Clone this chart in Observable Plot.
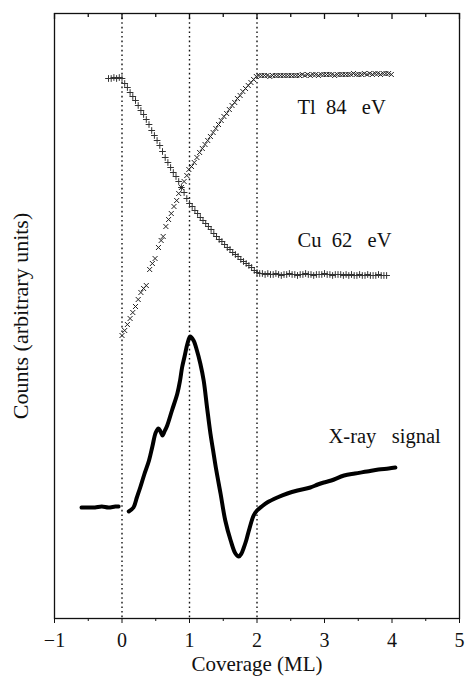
<!DOCTYPE html>
<html><head><meta charset="utf-8">
<script src="https://cdn.jsdelivr.net/npm/d3@7"></script>
<script src="https://cdn.jsdelivr.net/npm/@observablehq/plot@0.6"></script>
<style>
body{margin:0;background:#fff}
</style>
</head><body><div id="chart"></div>
<script>
// Axis ticks (coverage, ML)
const majorTicks = [-1, 0, 1, 2, 3, 4, 5];
const minorTicks = [-0.5, 0.5, 1.5, 2.5, 3.5, 4.5];
const guideLines = [0, 1, 2];

// Tl 84 eV Auger signal: [coverage, counts]
const tl84 = [
  [0.00,283],[0.04,288],[0.08,294],[0.12,300],[0.16,306],[0.20,312],[0.24,319],[0.28,326],[0.32,330],[0.36,333],
  [0.41,349],[0.45,355],[0.49,360],[0.54,371],[0.58,378],[0.61,382],[0.65,392],[0.69,399],[0.73,405],[0.77,412],
  [0.81,418],[0.84,425],[0.88,431],[0.92,437],[0.96,443],[0.99,449],
  [1.03,452],[1.07,456],[1.11,461],[1.15,466],[1.19,470],[1.23,474],[1.27,478],[1.31,482],[1.35,486],[1.39,490],
  [1.43,494],[1.47,498],[1.51,502],[1.55,505],[1.59,509],[1.63,513],[1.67,516],[1.71,520],[1.75,523],[1.79,527],
  [1.83,530],[1.87,533],[1.91,536],[1.95,539],[1.99,542],
  [2.03,543],[2.07,543],[2.11,543],[2.15,543],[2.19,542],[2.23,543],[2.27,543],[2.31,543],[2.35,543],[2.39,543],
  [2.43,543],[2.47,543],[2.51,543],[2.55,543],[2.59,543],[2.63,543],[2.67,544],[2.71,543],[2.75,544],[2.79,543],
  [2.83,544],[2.87,544],[2.91,543],[2.95,544],[2.99,544],[3.03,544],[3.07,544],[3.11,544],[3.15,543],[3.19,544],
  [3.23,544],[3.27,544],[3.31,544],[3.35,544],[3.39,544],[3.43,545],[3.47,544],[3.51,544],[3.55,544],[3.59,545],
  [3.63,544],[3.67,545],[3.71,544],[3.75,545],[3.79,545],[3.83,544],[3.87,545],[3.91,545],[3.95,545],[3.99,544]
];

// Cu 62 eV Auger signal: [coverage, counts]
const cu62 = [
  [-0.20,540],[-0.16,540],[-0.12,541],[-0.08,540],[-0.04,541],[0.00,540],
  [0.04,535],[0.08,531],[0.12,526],[0.16,522],[0.20,518],[0.24,513],[0.28,508],[0.32,504],[0.36,499],[0.40,494],
  [0.44,488],[0.48,483],[0.52,478],[0.56,473],[0.60,467],[0.64,461],[0.68,456],[0.72,451],[0.76,446],[0.80,442],
  [0.84,437],[0.88,431],[0.92,426],[0.96,420],[1.00,415],
  [1.04,412],[1.08,408],[1.12,405],[1.16,401],[1.20,398],[1.24,395],[1.28,392],[1.32,389],[1.36,385],[1.40,382],
  [1.44,379],[1.48,377],[1.52,374],[1.56,371],[1.60,369],[1.64,366],[1.68,364],[1.72,362],[1.76,359],[1.80,357],
  [1.84,355],[1.88,353],[1.92,351],[1.96,348],[2.00,346],
  [2.04,345],[2.08,345],[2.12,344],[2.16,345],[2.20,344],[2.24,344],[2.28,345],[2.32,344],[2.36,343],[2.40,344],
  [2.44,344],[2.48,345],[2.52,344],[2.56,344],[2.60,343],[2.64,344],[2.68,344],[2.72,345],[2.76,344],[2.80,344],
  [2.84,343],[2.88,344],[2.92,344],[2.96,344],[3.00,345],[3.04,344],[3.08,344],[3.12,343],[3.16,344],[3.20,344],
  [3.24,344],[3.28,343],[3.32,344],[3.36,343],[3.40,344],[3.44,343],[3.48,343],[3.52,344],[3.56,343],[3.60,343],
  [3.64,344],[3.68,343],[3.72,343],[3.76,343],[3.80,344],[3.84,343],[3.88,343],[3.92,343]
];

// X-ray signal: [coverage, counts]
const xrayBefore = [
  [-0.60,111],[-0.50,111],[-0.40,111],[-0.30,112],[-0.20,111],[-0.10,112],[-0.05,112]
];
const xrayAfter = [
  [0.10,107],[0.17,111],[0.22,121],[0.27,131],[0.33,144],[0.40,158],[0.45,172],[0.50,186],[0.54,190],[0.57,187],
  [0.60,183],[0.63,187],[0.67,193],[0.74,208],[0.82,225],[0.86,238],[0.89,251],[0.93,263],[0.97,275],[1.01,282],
  [1.06,278],[1.11,268],[1.16,255],[1.21,238],[1.26,211],[1.31,185],[1.35,168],[1.39,151],[1.46,125],[1.53,98],
  [1.61,78],[1.68,65],[1.73,62],[1.77,65],[1.80,70],[1.84,78],[1.88,88],[1.95,103],[2.00,108],[2.07,112],
  [2.15,116],[2.30,121],[2.45,125],[2.60,128],[2.79,131],[2.90,134],[2.99,136],[3.10,138],[3.29,143],[3.45,145],
  [3.63,147],[3.80,149],[3.95,150],[4.05,151]
];

// Curve labels
const labelText = ["Tl\u00a0\u00a084\u00a0\u00a0\u00a0eV", "Cu\u00a0\u00a062\u00a0\u00a0\u00a0eV", "X-ray\u00a0\u00a0\u00a0signal"];
const labelX = [2.60, 2.60, 3.06];
const labelY = [511, 378, 182];

const xLabel = "Coverage (ML)";
const yLabel = "Counts (arbitrary units)";

const xray = [
  ...xrayBefore.map(([x, y]) => ({x, y, seg: "before"})),
  ...xrayAfter.map(([x, y]) => ({x, y, seg: "after"}))
];
const labels = labelText.map((text, i) => ({text, x: labelX[i], y: labelY[i]}));
const fmt = d => d < 0 ? "\u2212" + Math.abs(d) : String(d);

const chart = Plot.plot({
  width: 465, height: 676,
  marginLeft: 54, marginRight: 6, marginTop: 13, marginBottom: 58,
  style: {fontFamily: "'Liberation Serif', 'Times New Roman', serif", fontSize: "21px", background: "#fff", color: "#111"},
  x: {domain: [-1, 5]},
  y: {domain: [0, 605], axis: null},
  marks: [
    Plot.ruleX(guideLines, {stroke: "#111", strokeWidth: 1.4, strokeDasharray: "1.6,3"}),
    Plot.frame({stroke: "#111", strokeWidth: 1.3}),
    Plot.axisX({ticks: majorTicks, tickFormat: fmt, tickSize: 5, tickPadding: 9, label: null, fontSize: 20}),
    Plot.axisX({ticks: minorTicks, tickFormat: () => "", tickSize: 3, label: null}),
    // inward ticks along the top edge
    Plot.ruleX(majorTicks, {stroke: "#111", strokeWidth: 1.3, insetBottom: 599}),
    Plot.ruleX(minorTicks, {stroke: "#111", strokeWidth: 1.3, insetBottom: 601}),
    Plot.text([xLabel], {frameAnchor: "bottom", lineAnchor: "middle", textAnchor: "middle", dy: 46, fontSize: 21}),
    Plot.text([yLabel], {frameAnchor: "left", lineAnchor: "middle", textAnchor: "middle", rotate: -90, dx: -34, fontSize: 22}),
    Plot.dot(cu62, {x: d => d[0], y: d => d[1], symbol: "plus", r: 2.3, stroke: "#333", strokeWidth: 1}),
    Plot.dot(tl84, {x: d => d[0], y: d => d[1], symbol: "times", r: 2.4, stroke: "#222", strokeWidth: 1}),
    Plot.line(xray, {x: "x", y: "y", z: "seg", curve: "catmull-rom", stroke: "#000", strokeWidth: 4, strokeLinejoin: "round", strokeLinecap: "round"}),
    Plot.text(labels, {x: "x", y: "y", text: "text", textAnchor: "start", lineAnchor: "middle", fontSize: 20.5, fill: "#111"})
  ]
});
document.getElementById("chart").append(chart);
</script>
</body></html>
